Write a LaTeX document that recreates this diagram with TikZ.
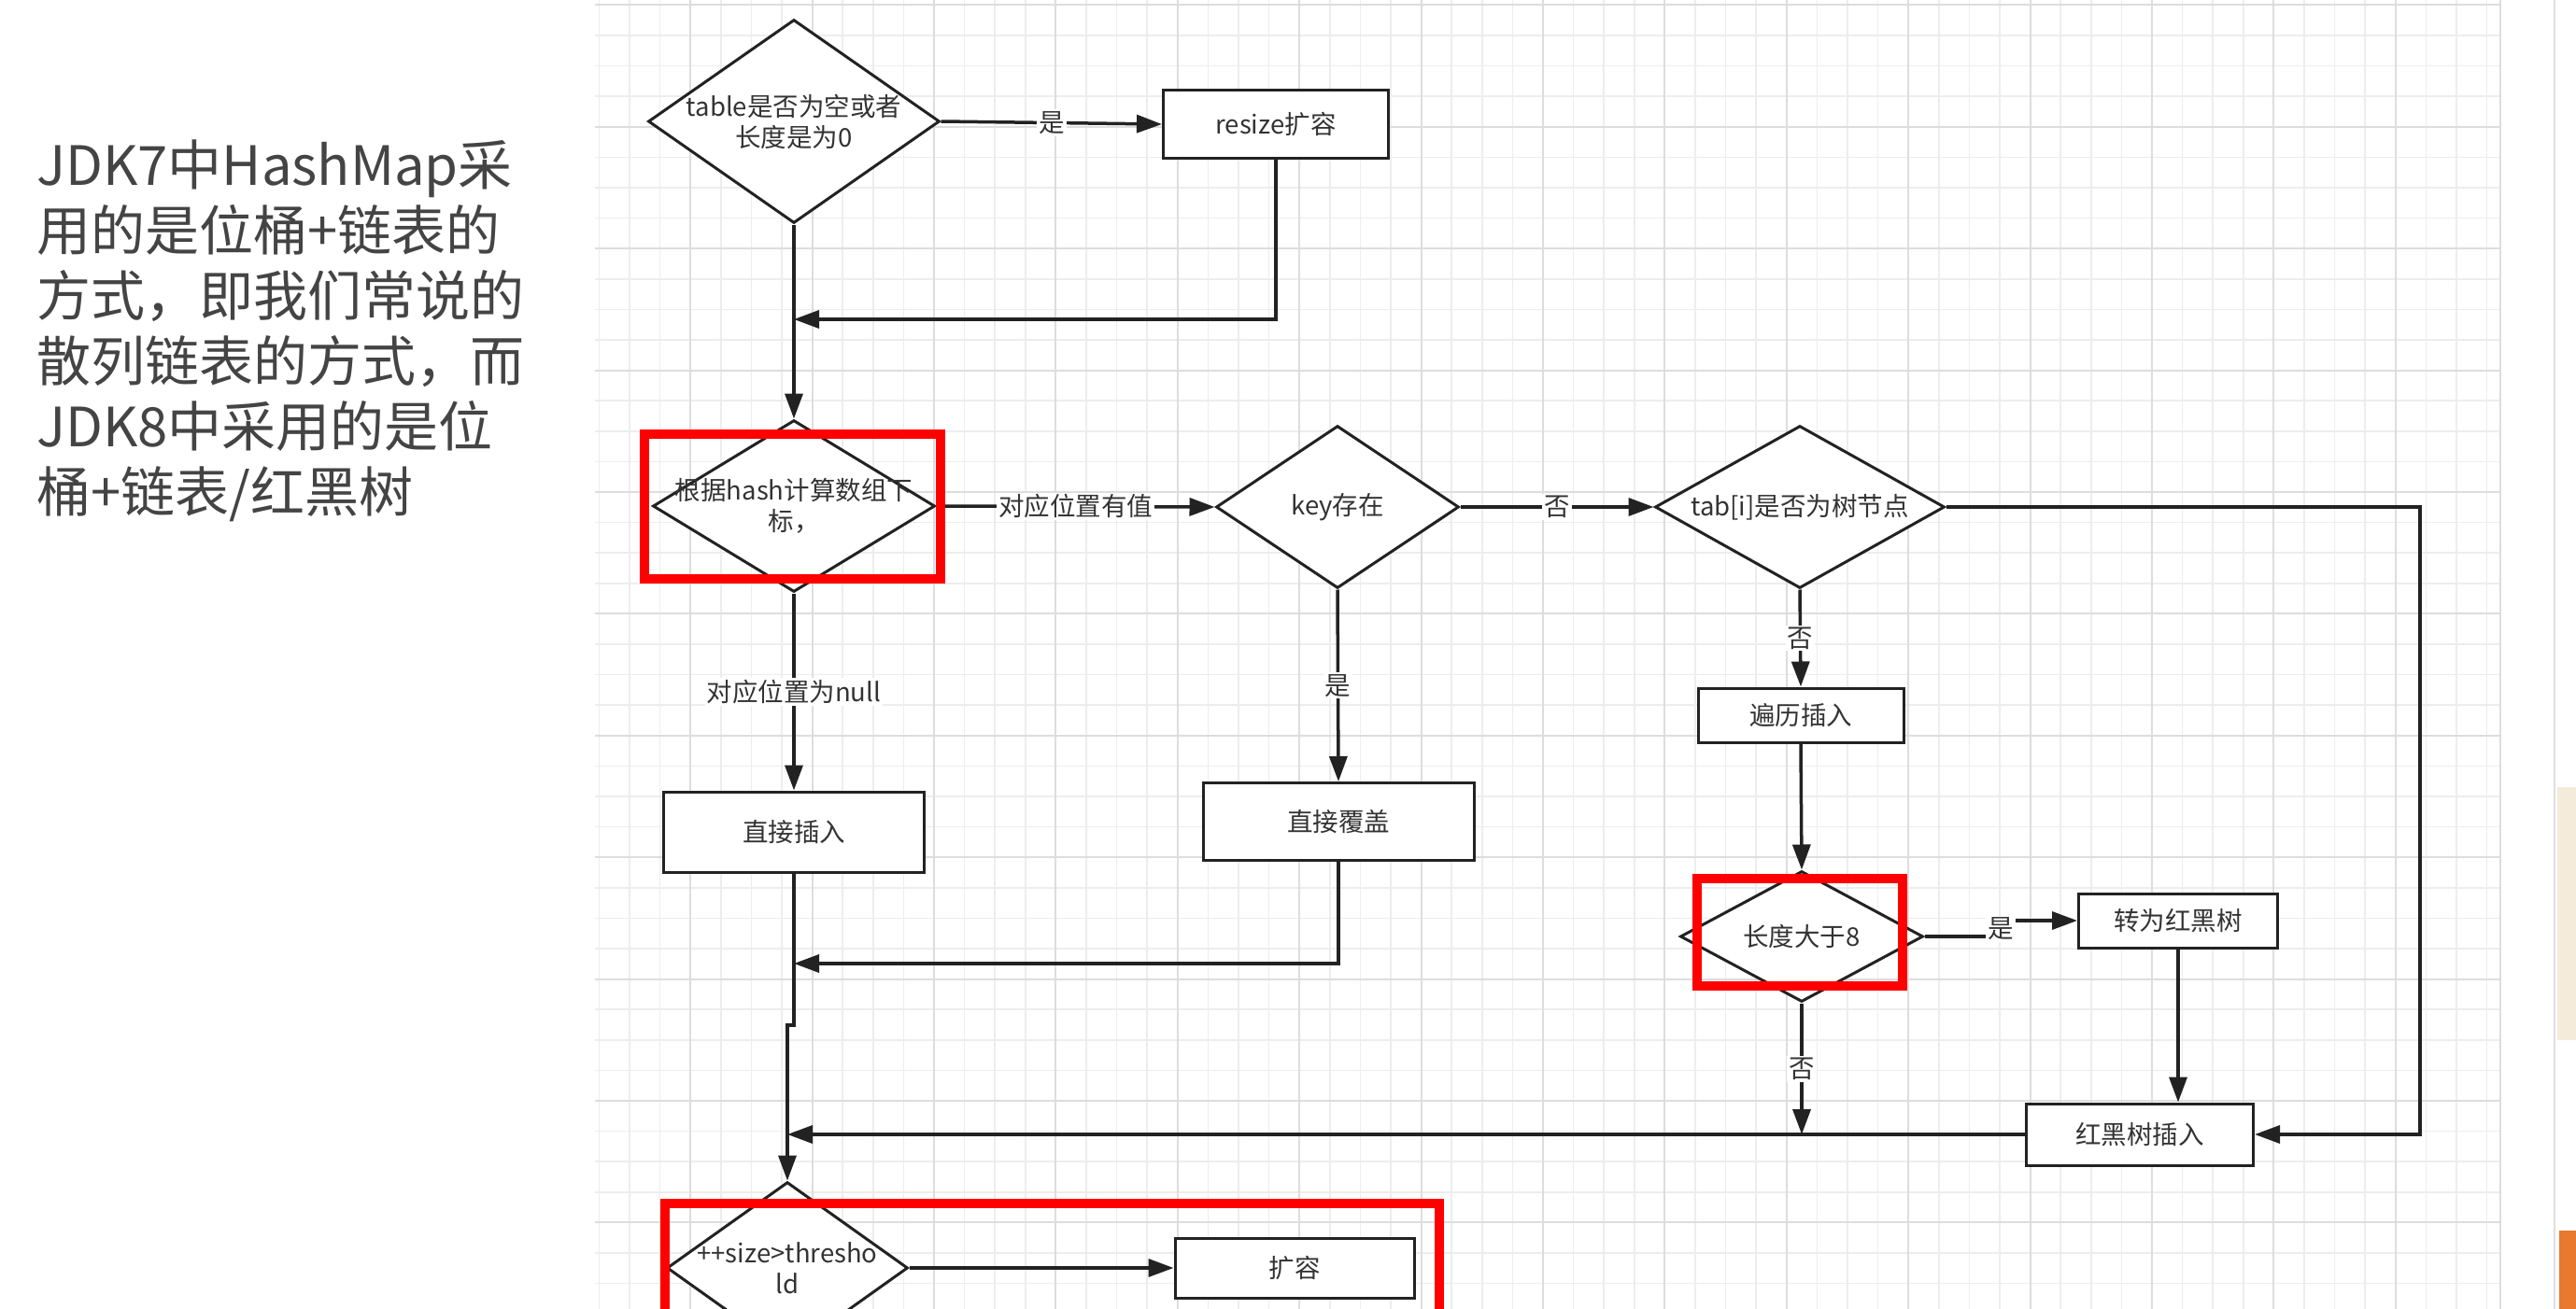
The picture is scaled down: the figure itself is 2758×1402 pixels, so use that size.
\documentclass[tikz,border=0pt]{standalone}
\usepackage{fontspec}
\setmainfont{Noto Sans CJK SC}
\usetikzlibrary{arrows.meta,shapes.geometric}
\definecolor{ink}{HTML}{222222}
\definecolor{txt}{HTML}{333333}
\definecolor{lefttext}{HTML}{444444}
\definecolor{gridminor}{HTML}{EDEDED}
\definecolor{gridmajor}{HTML}{DDDDDD}
\definecolor{hl}{HTML}{FF0000}
\definecolor{beige}{HTML}{F4EBDA}
\definecolor{orng}{HTML}{E8792E}
\begin{document}
\begin{tikzpicture}[x=1pt,y=-1pt,
  font=\fontsize{27.5}{33}\selectfont,
  dia/.style={shape=diamond, draw=ink, line width=3pt, fill=white, inner sep=0pt},
  box/.style={shape=rectangle, draw=ink, line width=3pt, fill=white, text=txt, inner sep=0pt},
  dtext/.style={text=txt, align=center, inner sep=0pt},
  conn/.style={draw=ink, line width=3.5pt, -{Triangle[length=27pt,width=19pt]}},
  elabel/.style={fill=white, text=txt, inner sep=2pt},
  redbox/.style={draw=hl, line width=10pt},
  lefttxt/.style={anchor=base west, inner sep=0pt, text=lefttext, font=\fontsize{58}{70}\selectfont},
]
\useasboundingbox (0,0) rectangle (2758,1402);
\clip (0,0) rectangle (2758,1402);
\fill[white] (0,0) rectangle (2758,1402);

% grid
\begin{scope}
\clip (637,0) rectangle (2677,1402);
\foreach \k in {0,...,64} \draw[gridminor, line width=1.5pt] ({608.8+32.6*\k},0) -- ({608.8+32.6*\k},1402);
\foreach \k in {0,...,43} \draw[gridminor, line width=1.5pt] (637,{5.4+32.6*\k}) -- (2677,{5.4+32.6*\k});
\foreach \k in {0,...,16} \draw[gridmajor, line width=2pt] ({608.8+130.4*\k},0) -- ({608.8+130.4*\k},1402);
\foreach \k in {0,...,11} \draw[gridmajor, line width=2pt] (637,{5.4+130.4*\k}) -- (2677,{5.4+130.4*\k});
\end{scope}
\draw[gridmajor, line width=1.5pt] (2677,0) -- (2677,1402);

% right edge panel
\draw[gray!25, line width=1.5pt] (2735,0) -- (2735,1402);
\fill[beige] (2738,843) rectangle (2758,1114);
\fill[orng] (2740,1318) rectangle (2758,1402);

% left text
\node[lefttxt] (L1) at (39,198) {JDK7中HashMap采};
\node[lefttxt] (L2) at (39,268) {用的是位桶+链表的};
\node[lefttxt] (L3) at (39,338) {方式，即我们常说的};
\node[lefttxt] (L4) at (39,408) {散列链表的方式，而};
\node[lefttxt] (L5) at (39,478) {JDK8中采用的是位};
\node[lefttxt] (L6) at (39,548) {桶+链表/红黑树};

% nodes
\node[dia, minimum width=312pt, minimum height=218pt,
  label={[dtext]center:table是否为空或者\\长度是为0}] (D1) at (850,130) {};
\node[box, minimum width=241pt, minimum height=73pt] (R1) at (1366,133) {resize扩容};
\node[dia, minimum width=302pt, minimum height=184pt,
  label={[dtext]center:根据hash计算数组下\\标，}] (D2) at (850,542) {};
\node[dia, minimum width=260pt, minimum height=174pt,
  label={[dtext]center:key存在}] (KD) at (1432,543) {};
\node[dia, minimum width=310pt, minimum height=174pt,
  label={[dtext]center:tab[i]是否为树节点}] (TD) at (1927,543) {};
\node[box, minimum width=279pt, minimum height=86pt] (Z1) at (850,891) {直接插入};
\node[box, minimum width=290pt, minimum height=83pt] (Z2) at (1433,880) {直接覆盖};
\node[box, minimum width=220pt, minimum height=58pt] (B1) at (1928,766) {遍历插入};
\node[dia, minimum width=260pt, minimum height=140pt,
  label={[dtext]center:长度大于8}] (D8) at (1929,1003) {};
\node[box, minimum width=213pt, minimum height=58pt] (ZH) at (2332,986) {转为红黑树};
\node[box, minimum width=243pt, minimum height=66pt] (HI) at (2291,1215) {红黑树插入};
\node[dia, minimum width=258pt, minimum height=184pt,
  label={[dtext]center:++size>thresho\\ld}] (DS) at (843,1358) {};
\node[box, minimum width=256pt, minimum height=64pt] (KR) at (1386,1358) {扩容};

% junctions
\coordinate (J1) at (850,342);
\coordinate (J2) at (850,1032);
\coordinate (J3) at (1929,1215);
\coordinate (J4) at (843,1215);
\coordinate (J5) at (850,1098);
\coordinate (J6) at (843,1098);
\coordinate (C1) at (2591,543);
\coordinate (S1) at (2136,1003);
\coordinate (S2) at (2136,986);

% connectors
\draw[conn] (D1.south) -- (D2.north);
\draw[conn] (D1.east) -- node[elabel]{是} (R1.west);
\draw[conn] (R1.south) |- (J1);
\draw[conn] (D2.east) -- node[elabel]{对应位置有值} (KD.west);
\draw[conn] (D2.south) -- node[elabel]{对应位置为null} (Z1.north);
\draw[conn] (KD.east) -- node[elabel]{否} (TD.west);
\draw[conn] (KD.south) -- node[elabel]{是} (Z2.north);
\draw[conn] (TD.south) -- node[elabel]{否} (B1.north);
\draw[conn] (B1.south) -- (D8.north);
\draw[conn] (D8.east) -- (S1) -- (S2) -- (ZH.west);
\node[elabel] (Lshi) at (2142,995) {是};
\draw[conn] (ZH.south) -- (ZH.south |- HI.north);
\draw[conn] (TD.east) -- (C1) |- (HI.east);
\draw[conn] (D8.south) -- node[elabel]{否} (J3);
\draw[conn] (HI.west) -- (J4);
\draw[conn] (Z2.south) |- (J2);
\draw[conn] (Z1.south) -- (J5) -- (J6) -- (DS.north);
\draw[conn] (DS.east) -- (KR.west);

% red highlight boxes
\draw[redbox] (690,465) rectangle (1007,620);
\draw[redbox] (1817,941) rectangle (2037,1056);
\draw[redbox] (712,1440) -- (712,1289) -- (1541,1289) -- (1541,1440);
\end{tikzpicture}
\end{document}
